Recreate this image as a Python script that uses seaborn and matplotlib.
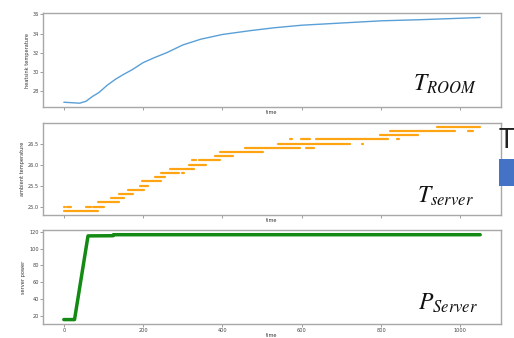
import numpy as np
import pandas as pd
import matplotlib
matplotlib.use("Agg")
import matplotlib.pyplot as plt
import seaborn as sns
from matplotlib.patches import Rectangle

# ---- data ----
room_t = [0, 20, 40, 56, 72, 88, 110, 130, 150, 172, 200, 230, 260, 300, 345,
          400, 470, 530, 600, 700, 800, 900, 1000, 1050]
room_v = [26.8, 26.75, 26.7, 26.9, 27.4, 27.8, 28.6, 29.2, 29.7, 30.2, 30.95,
          31.5, 32.0, 32.8, 33.4, 33.9, 34.3, 34.6, 34.87, 35.1, 35.33, 35.45,
          35.6, 35.68]

srv_level = [24.9, 25.0, 25.0, 25.0, 25.0, 25.1, 25.2, 25.3, 25.4, 25.5, 25.6,
             25.7, 25.8, 25.8, 25.9, 26.0, 26.1, 26.1, 26.2, 26.3, 26.4, 26.4,
             26.5, 26.5, 26.6, 26.6, 26.6, 26.6, 26.7, 26.8, 26.8, 26.9]
srv_start = [0, 0, 7, 56, 74, 85, 119, 140, 163, 192, 198, 230, 244, 298, 267,
             315, 324, 342, 382, 395, 456, 611, 540, 751, 571, 599, 637, 841,
             797, 822, 1020, 940]
srv_end = [85, 2, 18, 69, 102, 140, 151, 175, 201, 212, 245, 256, 290, 302, 328,
           359, 334, 393, 426, 502, 595, 632, 721, 755, 575, 620, 818, 845,
           894, 986, 1032, 1049]

pow_t = [0, 27, 61, 124, 125, 1050]
pow_v = [15.5, 15.5, 115.0, 115.2, 116.4, 116.4]

x_ticks = [0, 200, 400, 600, 800, 1000]
labels = ["heatsink temperature", "ambient temperature", "server power"]

# ---- style ----
sns.set_style("white")
plt.rcParams["font.family"] = ["DejaVu Sans"]
plt.rcParams["mathtext.fontset"] = "stix"

fig = plt.figure(figsize=(5.14, 3.38), dpi=100)
W, H = 514.0, 338.0

def box(l, t, r, b):
    return [l / W, 1 - b / H, (r - l) / W, (b - t) / H]

ax1 = fig.add_axes(box(43, 13, 501, 107))
ax2 = fig.add_axes(box(43, 122.7, 501, 215))
ax3 = fig.add_axes(box(43, 230, 501, 324.3))

room_df = pd.DataFrame({"time": room_t, "value": room_v})
sns.lineplot(data=room_df, x="time", y="value", ax=ax1, color="#3d8fd0",
             linewidth=1.0, alpha=0.85, estimator=None)

rows = []
for i, (lv, s, e) in enumerate(zip(srv_level, srv_start, srv_end)):
    rows.append({"seg": i, "time": s, "value": lv})
    rows.append({"seg": i, "time": e, "value": lv})
srv_df = pd.DataFrame(rows)
sns.lineplot(data=srv_df, x="time", y="value", units="seg", estimator=None,
             ax=ax2, color="#ffa514", linewidth=1.6, sort=False)

pow_df = pd.DataFrame({"time": pow_t, "value": pow_v})
sns.lineplot(data=pow_df, x="time", y="value", ax=ax3, color="#138a13",
             linewidth=2.5, estimator=None)

ylims = [(26.3, 36.15), (24.8, 27.0), (9.9, 122.0)]
yticks = [[28, 30, 32, 34, 36], [25.0, 25.5, 26.0, 26.5], [20, 40, 60, 80, 100, 120]]
for ax, lab, yl, yt in zip([ax1, ax2, ax3], labels, ylims, yticks):
    ax.set_xlim(-52.5, 1102.5)
    ax.set_ylim(*yl)
    ax.set_xticks(x_ticks)
    ax.set_yticks(yt)
    ax.set_ylabel(lab, fontsize=3.6, color="#333333", labelpad=2)
    ax.set_xlabel("time", fontsize=3.6, color="#333333", labelpad=0.5)
    ax.tick_params(axis="both", labelsize=3.6, length=2, width=0.5,
                   color="#777777", labelcolor="#444444", pad=1, direction="out")
    ax.tick_params(left=True, bottom=True)
    for sp in ax.spines.values():
        sp.set_color("#a8a8a8")
        sp.set_linewidth(1.0)
ax2.set_yticklabels(["25.0", "25.5", "26.0", "26.5"])
ax1.tick_params(labelbottom=False)
ax2.tick_params(labelbottom=False)
ax3.tick_params(axis="x", pad=0.5)

# ---- overlaid annotations ----
fig.text(413 / W, 1 - 91 / H, r"$T_{ROOM}$", fontsize=17, va="baseline",
         ha="left", color="#111111")
fig.text(417 / W, 1 - 203 / H, r"$T_{server}$", fontsize=17, va="baseline",
         ha="left", color="#111111")
fig.text(418 / W, 1 - 310 / H, r"$P_{Server}$", fontsize=17, va="baseline",
         ha="left", color="#111111")

fig.text(499 / W, 1 - 148 / H, "T", fontsize=19, va="baseline", ha="left",
         color="#222222", family=["Lato", "DejaVu Sans"])
fig.patches.append(Rectangle((499 / W, 1 - 186 / H), 15 / W, 27 / H,
                             transform=fig.transFigure, facecolor="#4472c4",
                             edgecolor="none", zorder=5))

fig.savefig("out.png", dpi=100)
